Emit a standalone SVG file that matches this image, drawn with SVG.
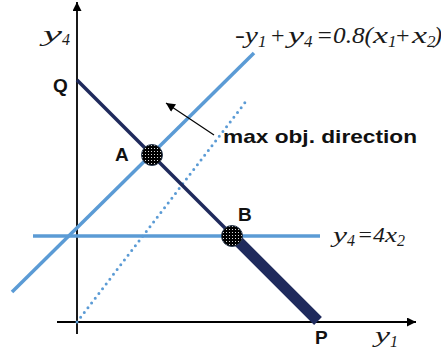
<svg xmlns="http://www.w3.org/2000/svg" width="441" height="358" viewBox="0 0 441 358">
  <defs>
    <style>
      .axis { stroke: #000; stroke-width: 1.8; fill: none; }
      .blue { stroke: #5b9bd5; stroke-width: 3.5; fill: none; }
      .dots { stroke: #5b9bd5; stroke-width: 3; stroke-linecap: round; stroke-dasharray: 0 6; fill: none; }
      .navy { stroke: #1f2a5c; fill: none; }
      .ser { font-family: "Liberation Serif", "Times New Roman", serif; font-style: italic; fill: #1a1a1a; }
      .lbl { font-family: "Liberation Sans", Arial, sans-serif; font-weight: bold; fill: #111; font-size: 19px; }
      .pt { fill: url(#speckle); stroke: #2a3a50; stroke-width: 1; }
    </style>
    <pattern id="speckle" patternUnits="userSpaceOnUse" width="3" height="3">
      <rect width="3" height="3" fill="#000"/>
      <circle cx="1.5" cy="1.5" r="0.55" fill="#fff"/>
    </pattern>
    <marker id="axHead" viewBox="0 0 10 10" refX="10" refY="5" markerWidth="10" markerHeight="9" markerUnits="userSpaceOnUse" orient="auto">
      <path d="M0,0 L10,5 L0,10 Z" fill="#000"/>
    </marker>
    <marker id="dirHead" viewBox="0 0 10 10" refX="10" refY="5" markerWidth="10" markerHeight="9" markerUnits="userSpaceOnUse" orient="auto">
      <path d="M0,0 L10,5 L0,10 Z" fill="#000"/>
    </marker>
  </defs>

  <g id="axes">
    <line class="axis" x1="77" y1="334" x2="77" y2="2" marker-end="url(#axHead)"/>
    <line class="axis" x1="57" y1="322" x2="416" y2="322" marker-end="url(#axHead)"/>
  </g>

  <g id="connectors">
    <line id="line-diag" class="blue" x1="12" y1="292" x2="254" y2="53"/>
    <line id="line-horiz" class="blue" x1="33" y1="236" x2="320" y2="236"/>
    <line id="line-dotted" class="dots" x1="77" y1="322" x2="247" y2="100"/>
    <line id="line-QB" class="navy" stroke-width="3.5" x1="77" y1="80" x2="233" y2="236"/>
    <line id="line-BP" class="navy" stroke-width="11" x1="232" y1="235" x2="318" y2="321"/>
    <line id="dir-arrow" stroke="#000" stroke-width="1.2" x1="214" y1="135" x2="166" y2="103" marker-end="url(#dirHead)"/>
  </g>

  <g id="node-A">
    <circle class="pt" cx="152" cy="155" r="10.5"/>
    <text class="lbl" x="115" y="161">A</text>
  </g>
  <g id="node-B">
    <circle class="pt" cx="232" cy="236" r="10.5"/>
    <text class="lbl" x="238" y="221">B</text>
  </g>
  <g id="node-Q">
    <text class="lbl" x="53" y="92">Q</text>
  </g>
  <g id="node-P">
    <text class="lbl" x="315" y="344">P</text>
  </g>

  <g id="labels">
    <text class="lbl" x="223" y="143" font-size="20" textLength="194" lengthAdjust="spacingAndGlyphs">max obj. direction</text>
    <text class="ser" font-size="22" y="41"><tspan x="43" textLength="19" lengthAdjust="spacingAndGlyphs">y</tspan><tspan x="62" dy="4" font-size="16">4</tspan></text>
    <text class="ser" font-size="22" y="342"><tspan x="375" textLength="15" lengthAdjust="spacingAndGlyphs">y</tspan><tspan x="390" dy="5" font-size="16">1</tspan></text>
    <text class="ser" font-size="24" y="43"><tspan x="235" textLength="23" lengthAdjust="spacingAndGlyphs">-y</tspan><tspan x="258" dy="4" font-size="17">1</tspan><tspan x="271" dy="-4" font-style="normal">+</tspan><tspan x="288" textLength="16" lengthAdjust="spacingAndGlyphs">y</tspan><tspan x="304" dy="4" font-size="17">4</tspan><tspan x="316" dy="-4" textLength="57" lengthAdjust="spacingAndGlyphs">=0.8(</tspan><tspan x="373" textLength="15" lengthAdjust="spacingAndGlyphs">x</tspan><tspan x="388" dy="4" font-size="17">1</tspan><tspan x="396" dy="-4" font-style="normal">+</tspan><tspan x="412" textLength="15" lengthAdjust="spacingAndGlyphs">x</tspan><tspan x="427" dy="4" font-size="17">2</tspan><tspan x="434" dy="-4">)</tspan></text>
    <text class="ser" font-size="22" y="242"><tspan x="333" textLength="14" lengthAdjust="spacingAndGlyphs">y</tspan><tspan x="347" dy="4" font-size="16">4</tspan><tspan x="357" dy="-4" textLength="28" lengthAdjust="spacingAndGlyphs">=4</tspan><tspan x="385" textLength="12" lengthAdjust="spacingAndGlyphs">x</tspan><tspan x="397" dy="4" font-size="16">2</tspan></text>
  </g>
</svg>
